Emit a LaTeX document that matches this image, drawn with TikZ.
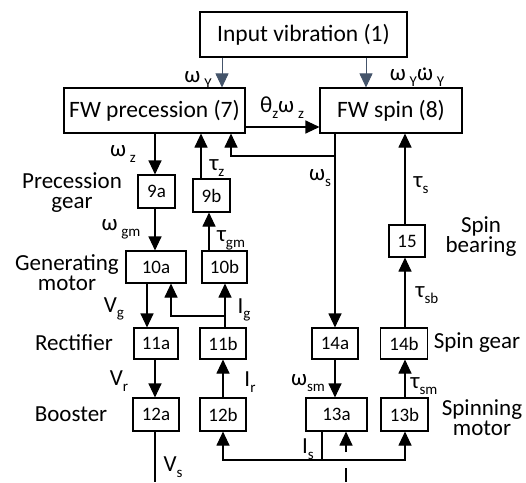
\documentclass[tikz,border=0pt]{standalone}
\usepackage{fontspec}
\setmainfont{Carlito}
\usetikzlibrary{arrows.meta}
\definecolor{slate}{HTML}{44546A}
\newcommand\lsub[1]{\raisebox{-0.25em}{\fontsize{15}{15}\selectfont #1}}
\newcommand\wdot{\makebox[0pt][l]{\kern0.2em\raisebox{0.42em}{.}}ω}
\begin{document}
\begin{tikzpicture}[x=1pt,y=-1pt,
  box/.style={draw,line width=1.1pt,inner sep=0pt,font=\fontsize{23.5}{24}\selectfont},
  sbox/.style={draw,line width=1.1pt,inner sep=0pt,font=\fontsize{19}{20}\selectfont},
  side/.style={font=\fontsize{23}{20}\selectfont,align=center,inner sep=0pt},
  lab/.style={font=\fontsize{23}{23}\selectfont,inner sep=0pt},
  arr/.style={line width=1.1pt,-{Triangle[width=13pt,length=14pt]}},
  ln/.style={line width=1.1pt},
]
\useasboundingbox (0,0) rectangle (526,482);
% boxes
\node[box,minimum width=207pt,minimum height=45pt] (in) at (303.5,34.5) {Input vibration (1)};
\node[box,minimum width=181pt,minimum height=45pt] (prec) at (154.5,110.5) {FW precession (7)};
\node[box,minimum width=142pt,minimum height=45pt] (spin) at (391,110.5) {FW spin (8)};
\node[sbox,minimum width=37pt,minimum height=33pt] (n9a) at (156.5,191.5) {9a};
\node[sbox,minimum width=37pt,minimum height=33pt] (n9b) at (211.5,195.5) {9b};
\node[sbox,minimum width=60pt,minimum height=32pt] (n10a) at (156,267) {10a};
\node[sbox,minimum width=45pt,minimum height=32pt] (n10b) at (224.5,267) {10b};
\node[sbox,minimum width=44pt,minimum height=31pt] (n11a) at (156,343.5) {11a};
\node[sbox,minimum width=46pt,minimum height=31pt] (n11b) at (223,343.5) {11b};
\node[sbox,minimum width=46pt,minimum height=31pt] (n14a) at (335,343.5) {14a};
\node[sbox,minimum width=47pt,minimum height=31pt] (n14b) at (404,343.5) {14b};
\node[sbox,minimum width=46pt,minimum height=33pt] (n12a) at (156,414.5) {12a};
\node[sbox,minimum width=46pt,minimum height=33pt] (n12b) at (223,414.5) {12b};
\node[sbox,minimum width=61pt,minimum height=33pt] (n13a) at (336.5,414.5) {13a};
\node[sbox,minimum width=47pt,minimum height=33pt] (n13b) at (404.5,414.5) {13b};
\node[sbox,minimum width=36pt,minimum height=32pt] (n15) at (407,241) {15};
% side labels
\node[side] (lprec) at (72,193) {Precession\\gear};
\node[side] (lgen) at (67,273) {Generating\\motor};
\node[side] (lrect) at (74,343) {Rectifier};
\node[side] (lboost) at (71,414) {Booster};
\node[side] (lbear) at (481,237) {Spin\\bearing};
\node[side] (lsg) at (477,343) {Spin gear};
\node[side] (lsm) at (482,418) {Spinning\\motor};
% signal labels
\node[lab] (wY) at (198,80) {ω\,\lsub{Y}};
\node[lab] (wYd) at (417,77) {ω\,\lsub{Y}\wdot\,\lsub{Y}};
\node[lab] (thz) at (282,108) {θ\lsub{z}ω\,\lsub{z}};
\node[lab] (wz) at (123,154) {ω\,\lsub{z}};
\node[lab] (tz) at (217,168) {τ\lsub{z}};
\node[lab] (ws) at (320,178) {ω\lsub{s}};
\node[lab] (ts) at (421,185) {τ\lsub{s}};
\node[lab] (wgm) at (121,229) {ω\,\lsub{gm}};
\node[lab] (tgm) at (231,240) {τ\lsub{gm}};
\node[lab] (tsb) at (427,295) {τ\lsub{sb}};
\node[lab] (Vg) at (114,309) {V\lsub{g}};
\node[lab] (Ig) at (244,310) {I\lsub{g}};
\node[lab] (Vr) at (119,381) {V\lsub{r}};
\node[lab] (Ir) at (250,382) {I\lsub{r}};
\node[lab] (wsm) at (308,383) {ω\lsub{sm}};
\node[lab] (tsm) at (424,386) {τ\lsub{sm}};
\node[lab] (Is) at (308,449) {I\lsub{s}};
\node[lab] (Vs) at (173,467) {V\lsub{s}};
% column coordinates
\coordinate (xA) at (222,0);
\coordinate (xB) at (366,0);
\coordinate (yC) at (0,127);
\coordinate (x154) at (155,0);
\coordinate (x201) at (201,0);
\coordinate (x335) at (335,0);
\coordinate (x405) at (405,0);
\coordinate (x209) at (209,0);
\coordinate (x147) at (147,0);
\coordinate (x225) at (225,0);
\coordinate (x223) at (223,0);
\coordinate (x322) at (322,0);
% connectors
\draw[arr,slate,line width=0.9pt] (in.south -| xA) -- (prec.north -| xA);
\draw[arr,slate,line width=0.9pt] (in.south -| xB) -- (spin.north -| xB);
\draw[arr] (prec.east |- yC) -- (spin.west |- yC);
\draw[arr] (prec.south -| x154) -- (n9a.north -| x154);
\draw[arr] (n9b.north -| x201) -- (prec.south -| x201);
\draw[arr] (spin.south -| x335) -- (n14a.north -| x335);
\coordinate (j1) at (335,156);
\coordinate (k1) at (231,156);
\draw[arr] (j1) -- (k1) -- (prec.south -| k1);
\draw[arr] (n15.north -| x405) -- (spin.south -| x405);
\draw[arr] (n14b.north -| x405) -- (n15.south -| x405);
\draw[arr] (n9a.south -| x154) -- (n10a.north -| x154);
\draw[arr] (n10b.north -| x209) -- (n9b.south -| x209);
\draw[arr] (n10a.south -| x147) -- (n11a.north -| x147);
\draw[arr] (n11b.north -| x225) -- (n10b.south -| x225);
\coordinate (j2) at (225,316);
\coordinate (k2) at (171,316);
\draw[arr] (j2) -- (k2) -- (n10a.south -| k2);
\draw[arr] (n11a.south -| x154) -- (n12a.north -| x154);
\draw[arr] (n12b.north -| x223) -- (n11b.south -| x223);
\draw[arr] (n14a.south -| x335) -- (n13a.north -| x335);
\draw[arr] (n13b.north -| x405) -- (n14b.south -| x405);
\coordinate (vsend) at (155,482);
\draw[ln] (n12a.south -| x154) -- (vsend);
\coordinate (b1) at (322,460);
\coordinate (b2) at (223,460);
\coordinate (b3) at (405,460);
\draw[ln] (n13a.south -| x322) -- (b1);
\draw[arr] (b1) -- (b2) -- (n12b.south -| b2);
\draw[arr] (b1) -- (b3) -- (n13b.south -| b3);
\coordinate (s1) at (346,452);
\draw[arr] (s1) -- (n13a.south -| s1);
\coordinate (s2) at (346,468);
\coordinate (s3) at (346,482);
\draw[ln] (s2) -- (s3);
\end{tikzpicture}
\end{document}
